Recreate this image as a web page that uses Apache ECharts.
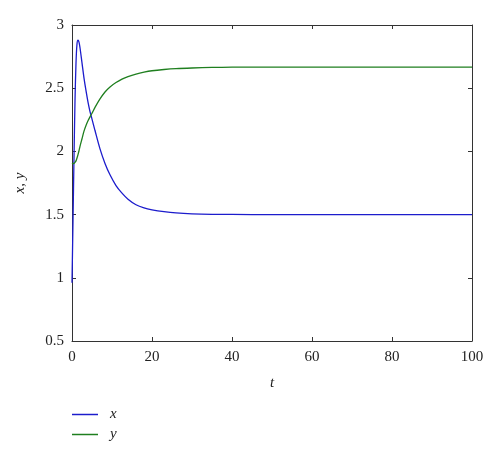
<!DOCTYPE html>
<html>
<head>
<meta charset="utf-8">
<script src="https://cdn.jsdelivr.net/npm/echarts@6/dist/echarts.min.js"></script>
<style>
html,body{margin:0;padding:0;background:#fff;}
#chart{width:500px;height:458px;}
</style>
</head>
<body>
<div id="chart"></div>
<script>
var tValues = [0, 0.25, 0.5, 0.75, 1, 1.25, 1.5, 1.75, 2, 2.5, 3, 3.5, 4, 4.5, 4.75, 5, 5.75, 7, 8.25, 9.5, 11, 12.5, 14, 16, 18, 20, 23, 26, 30, 35, 40, 50, 60, 70, 80, 90, 100];
var xValues = [0.96, 1.45, 1.95, 2.4, 2.7, 2.85, 2.88, 2.865, 2.82, 2.7, 2.58, 2.48, 2.39, 2.315, 2.285, 2.255, 2.165, 2.02, 1.905, 1.815, 1.73, 1.67, 1.622, 1.578, 1.553, 1.538, 1.523, 1.513, 1.506, 1.502, 1.501, 1.5, 1.5, 1.5, 1.5, 1.5, 1.5];
var yValues = [1.907, 1.903, 1.905, 1.913, 1.925, 1.948, 1.975, 2.005, 2.04, 2.1, 2.16, 2.205, 2.242, 2.273, 2.288, 2.302, 2.348, 2.415, 2.47, 2.51, 2.545, 2.572, 2.592, 2.612, 2.627, 2.638, 2.648, 2.655, 2.66, 2.664, 2.666, 2.667, 2.667, 2.667, 2.667, 2.667, 2.667];
var xTicks = [0, 20, 40, 60, 80, 100];
var yTicks = [0.5, 1, 1.5, 2, 2.5, 3];
var seriesNames = ['x', 'y'];
var seriesColors = ['#1c1ccc', '#1f7f1f'];

function pairs(vals) { return tValues.map(function (t, i) { return [t, vals[i]]; }); }

var serif = 'Liberation Serif';
var axisColor = '#333';
var chart = echarts.init(document.getElementById('chart'), null, {renderer: 'canvas'});
var xBase = {
  type: 'value', min: xTicks[0], max: xTicks[xTicks.length - 1], interval: 20,
  axisLine: {show: true, onZero: false, lineStyle: {color: axisColor, width: 1}},
  axisTick: {show: true, inside: true, length: 4, lineStyle: {color: axisColor}},
  splitLine: {show: false}
};
var yBase = {
  type: 'value', min: yTicks[0], max: yTicks[yTicks.length - 1], interval: 0.5,
  axisLine: {show: true, onZero: false, lineStyle: {color: axisColor, width: 1}},
  axisTick: {show: true, inside: true, length: 4, lineStyle: {color: axisColor}},
  splitLine: {show: false}
};
function legendFor(i, top) {
  return {
    orient: 'vertical', left: 72, top: top, padding: 0, itemWidth: 26, itemHeight: 1.5, itemGap: 0,
    icon: 'rect', data: [seriesNames[i]],
    textStyle: {fontFamily: serif, fontStyle: 'italic', fontSize: 15, color: '#222', padding: [0, 0, 0, 7]}
  };
}
chart.setOption({
  animation: false,
  backgroundColor: '#fff',
  grid: {left: 72, top: 25, width: 400, height: 316, containLabel: false},
  xAxis: [
    Object.assign({}, xBase, {
      position: 'bottom',
      axisLabel: {show: true, color: '#222', fontFamily: serif, fontSize: 15, margin: 9},
      name: 't', nameLocation: 'middle', nameGap: 35,
      nameTextStyle: {fontFamily: serif, fontStyle: 'italic', fontSize: 15, color: '#222'}
    }),
    Object.assign({}, xBase, {position: 'top', axisLabel: {show: false}})
  ],
  yAxis: [
    Object.assign({}, yBase, {
      position: 'left',
      axisLabel: {show: true, color: '#222', fontFamily: serif, fontSize: 15, margin: 8},
      name: 'x, y', nameLocation: 'middle', nameGap: 44, nameRotate: 90,
      nameTextStyle: {fontFamily: serif, fontStyle: 'italic', fontSize: 15, color: '#222'}
    }),
    Object.assign({}, yBase, {position: 'right', axisLabel: {show: false}})
  ],
  legend: [legendFor(0, 407), legendFor(1, 427)],
  series: [
    {name: seriesNames[0], type: 'line', data: pairs(xValues), showSymbol: false, smooth: 0.3,
     lineStyle: {color: seriesColors[0], width: 1.3}, itemStyle: {color: seriesColors[0]}},
    {name: seriesNames[1], type: 'line', data: pairs(yValues), showSymbol: false, smooth: 0.3,
     lineStyle: {color: seriesColors[1], width: 1.3}, itemStyle: {color: seriesColors[1]}}
  ]
});
</script>
</body>
</html>
